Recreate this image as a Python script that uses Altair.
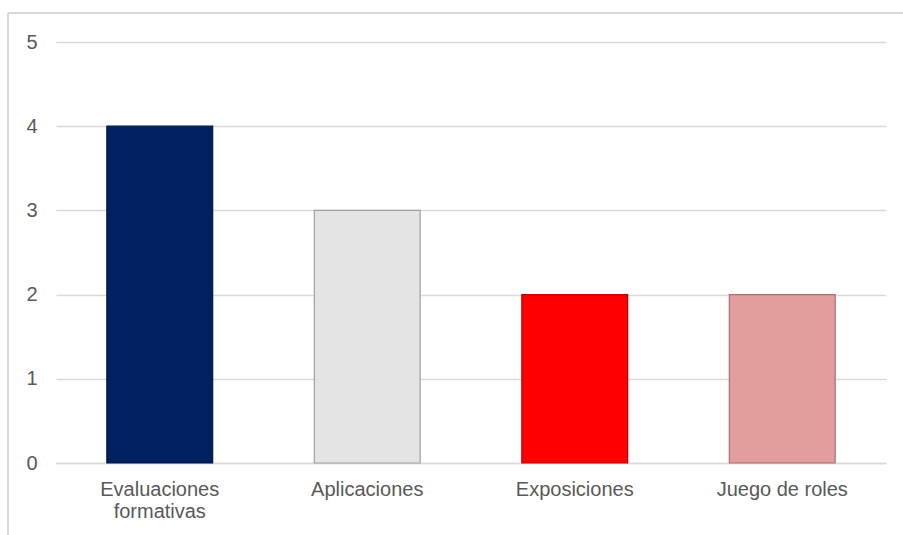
import altair as alt
import pandas as pd

categories = ["Evaluaciones formativas", "Aplicaciones", "Exposiciones", "Juego de roles"]
values = [4, 3, 2, 2]
colors = ["#002060", "#e4e4e4", "#ff0000", "#e49d9d"]
strokes = ["#001845", "#a0a0a0", "#b80000", "#a87070"]

df = pd.DataFrame({"cat": categories, "val": values, "color": colors, "stroke": strokes})

label_expr = ("datum.label == 'Evaluaciones formativas' ? ['Evaluaciones', 'formativas'] : datum.label")

x = alt.X("cat:N", sort=categories, title=None,
          scale=alt.Scale(paddingInner=0.49, paddingOuter=0.245),
          axis=alt.Axis(labelAngle=0, labelExpr=label_expr, labelFontSize=20,
                        labelColor="#595959", labelFont="Liberation Sans",
                        labelPadding=16, ticks=False, domainColor="#d9d9d9",
                        domainWidth=1.5, labelLineHeight=22, labelBaseline="top"))
y = alt.Y("val:Q", title=None,
          scale=alt.Scale(domain=[0, 5], nice=False),
          axis=alt.Axis(values=[0, 1, 2, 3, 4, 5], labelFontSize=20, labelColor="#595959",
                        labelFont="Liberation Sans", ticks=False, domain=False,
                        gridColor="#d9d9d9", gridWidth=1.5, labelPadding=19, format="d"))

bars = alt.Chart(df).mark_bar(strokeWidth=1.2, clip=False).encode(
    x=x, y=y,
    color=alt.Color("color:N", scale=None),
    stroke=alt.Stroke("stroke:N", scale=None),
)

border_top = alt.Chart(df).mark_rule(color="#d9d9d9", strokeWidth=1.5, clip=False).encode(
    x=alt.value(-48), x2=alt.value(900), y=alt.value(-29))
border_left = alt.Chart(df).mark_rule(color="#d9d9d9", strokeWidth=1.5, clip=False).encode(
    x=alt.value(-48), y=alt.value(-29), y2=alt.value(500))

chart = alt.layer(border_top, border_left, bars).properties(
    width=830, height=421,
    padding={"left": 56, "top": 42, "right": 17, "bottom": 72},
    autosize=alt.AutoSizeParams(type="none"),
    background="white",
).configure_view(stroke=None)

chart.save("out.html", embed_options={"renderer": "svg", "actions": False})
